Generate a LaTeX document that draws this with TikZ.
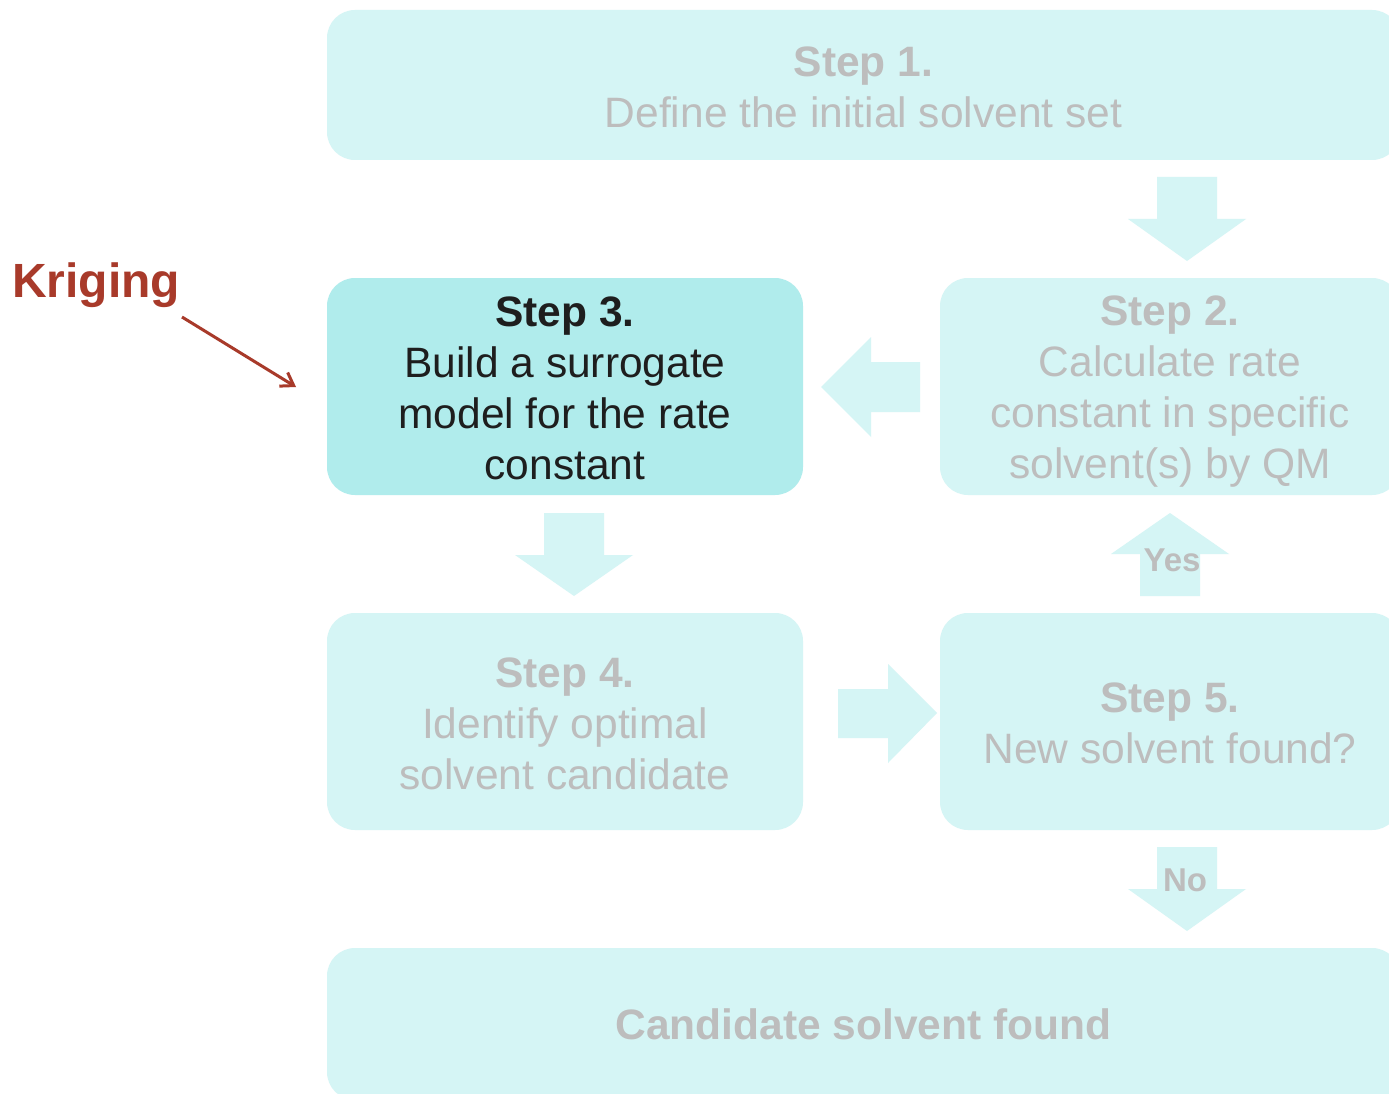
\documentclass[tikz,border=0pt]{standalone}
\usepackage{fontspec}
\setmainfont{Liberation Sans}
\usetikzlibrary{arrows.meta}
\definecolor{boxlight}{HTML}{D5F5F5}
\definecolor{boxactive}{HTML}{B0ECEC}
\definecolor{greytext}{HTML}{BDBDBD}
\definecolor{darktext}{HTML}{1E1E1E}
\definecolor{krig}{HTML}{A83A2A}
\tikzset{
  stepbox/.style={fill=boxlight, rounded corners=28pt, inner sep=0pt},
  activebox/.style={stepbox, fill=boxactive},
  steptext/.style={align=center, inner sep=0pt, text=greytext,
    font=\fontsize{42.5}{51}\selectfont},
  activetext/.style={steptext, text=darktext},
  blockarrow/.style={fill=boxlight},
  flowlabel/.style={text=greytext, font=\fontsize{33}{40}\selectfont\bfseries, inner sep=0pt},
}
\begin{document}
\begin{tikzpicture}[x=1pt,y=-1pt]
\clip (0,0) rectangle (1389,1094);
\fill[white] (0,0) rectangle (1389,1094);

% process step boxes
\node[stepbox, minimum width=1073pt, minimum height=150pt] (s1) at (863.5,85) {};
\node[stepbox, minimum width=460pt, minimum height=217pt] (s2) at (1170,386.5) {};
\node[activebox, minimum width=476pt, minimum height=217pt] (s3) at (565,386.5) {};
\node[stepbox, minimum width=476pt, minimum height=217pt] (s4) at (565,721.5) {};
\node[stepbox, minimum width=460pt, minimum height=217pt] (s5) at (1170,721.5) {};
\node[stepbox, minimum width=1073pt, minimum height=152pt] (fin) at (863.5,1024) {};

% step descriptions
\node[steptext] (s1t) at ([yshift=-2pt]s1.center)
  {\textbf{Step 1.}\\Define the initial solvent set};
\node[steptext] (s2t) at ([yshift=-5pt]s2.center)
  {\textbf{Step 2.}\\Calculate rate\\constant in specific\\solvent(s) by QM};
\node[activetext] (s3t) at ([yshift=-2pt]s3.center)
  {\textbf{Step 3.}\\Build a surrogate\\model for the rate\\constant};
\node[steptext] (s4t) at ([yshift=-2.5pt]s4.center)
  {\textbf{Step 4.}\\Identify optimal\\solvent candidate};
\node[steptext] (s5t) at ([yshift=-2pt]s5.center)
  {\textbf{Step 5.}\\New solvent found?};
\node[steptext] (fint) at (fin.center) {\textbf{Candidate solvent found}};

% block arrows between steps
\fill[blockarrow] (1157,177) -- (1217,177) -- (1217,219) -- (1246,219) -- (1187,261)
  -- (1128,219) -- (1157,219) -- cycle;
\fill[blockarrow] (920,362) -- (871,362) -- (871,337) -- (821,387) -- (871,437)
  -- (871,412) -- (920,412) -- cycle;
\fill[blockarrow] (544,513) -- (604,513) -- (604,555) -- (633,555) -- (574,596)
  -- (515,555) -- (544,555) -- cycle;
\fill[blockarrow] (838,689) -- (888,689) -- (888,664) -- (937,713) -- (888,763)
  -- (888,738) -- (838,738) -- cycle;
\fill[blockarrow] (1140,596) -- (1200,596) -- (1200,554) -- (1229,554) -- (1170,513)
  -- (1111,554) -- (1140,554) -- cycle;
\fill[blockarrow] (1157,847) -- (1217,847) -- (1217,889) -- (1246,889) -- (1187,931)
  -- (1128,889) -- (1157,889) -- cycle;

\node[flowlabel] (yes) at (1172,560) {Yes};
\node[flowlabel] (no) at (1185,880) {No};

% method annotation
\node[anchor=base west, inner sep=0pt, text=krig, font=\fontsize{48}{56}\selectfont\bfseries]
  (krig) at (12,297) {Kriging};
\coordinate (kstart) at (182,317);
\coordinate (kend) at (296,387);
\draw[krig, line width=3pt, -{Straight Barb[length=12pt,width=16pt,line width=3pt]}]
  (kstart) -- (kend);
\end{tikzpicture}
\end{document}
